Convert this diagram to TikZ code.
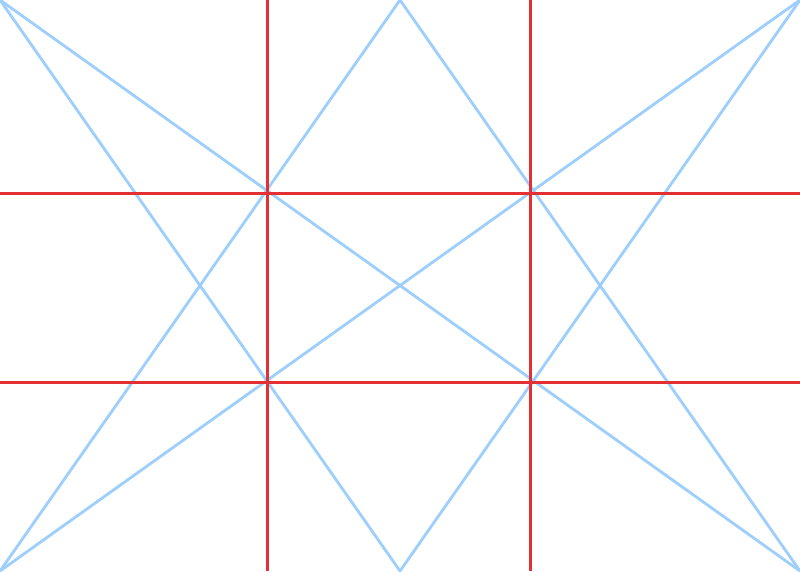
\documentclass[tikz,border=0pt]{standalone}
\definecolor{gridred}{RGB}{226,48,52}
\definecolor{diagblue}{RGB}{158,206,252}
\begin{document}
\begin{tikzpicture}[x=1pt,y=-1pt,
  bluel/.style={draw=diagblue,line width=2.8pt},
  redl/.style={draw=gridred,line width=2.1pt}]
\useasboundingbox (0,0) rectangle (800,571);
\fill[white] (0,0) rectangle (800,571);
\coordinate (tl) at (0,0);
\coordinate (tr) at (800,0);
\coordinate (bl) at (0,571);
\coordinate (br) at (800,571);
\coordinate (tm) at (400,0);
\coordinate (bm) at (400,571);
\draw[bluel] (tl) -- (br);
\draw[bluel] (tr) -- (bl);
\draw[bluel] (tl) -- (bm) -- (tr);
\draw[bluel] (bl) -- (tm) -- (br);
\coordinate (v1t) at (267.5,0); \coordinate (v1b) at (267.5,571);
\coordinate (v2t) at (530.5,0); \coordinate (v2b) at (530.5,571);
\coordinate (h1l) at (0,193.5); \coordinate (h1r) at (800,193.5);
\coordinate (h2l) at (0,382.5); \coordinate (h2r) at (800,382.5);
\draw[redl] (v1t) -- (v1b);
\draw[redl] (v2t) -- (v2b);
\draw[redl] (h1l) -- (h1r);
\draw[redl] (h2l) -- (h2r);
\end{tikzpicture}
\end{document}
